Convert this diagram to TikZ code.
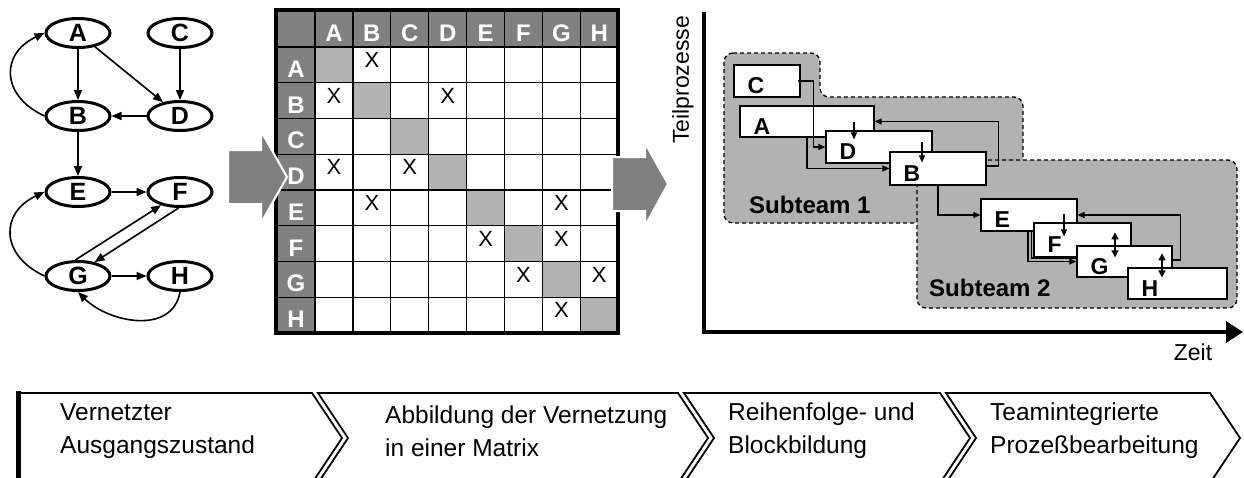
\documentclass[tikz,border=0pt]{standalone}
\usepackage{fontspec}
\setmainfont{Liberation Sans}
\usetikzlibrary{positioning,shapes.geometric,arrows.meta}
\definecolor{hdrgray}{RGB}{128,128,128}
\definecolor{blockgray}{RGB}{178,178,178}

\begin{document}
\begin{tikzpicture}[x=1pt,y=1pt,
  proc/.style={ellipse,draw,line width=3pt,minimum width=64pt,minimum height=29pt,inner sep=0pt,font=\fontsize{25}{25}\selectfont\bfseries},
  flow/.style={-{Triangle[length=10pt,width=8pt]},line width=1.6pt},
  hdr/.style={text=white,inner sep=0pt,font=\fontsize{24}{24}\selectfont\bfseries},
  xmark/.style={inner sep=0pt,font=\fontsize{22}{22}\selectfont},
  gridline/.style={line width=1.3pt},
  bigarr/.style={fill=hdrgray,draw=white,line width=2pt},
  team/.style={fill=blockgray,draw,dash pattern=on 4pt off 3pt,line width=1.3pt,rounded corners=9pt},
  teamlbl/.style={anchor=west,inner sep=0pt,font=\fontsize{24}{24}\selectfont\bfseries},
  tlbl/.style={anchor=west,inner sep=0pt,xshift=14pt,yshift=-5pt,font=\fontsize{23}{23}\selectfont\bfseries},
  task/.style={draw,fill=white,line width=1.2pt,inner sep=0pt,label={[tlbl]west:#1}},
  carr/.style={-{Triangle[length=7pt,width=6pt]},line width=1.1pt},
  dbl/.style={{Triangle[length=7pt,width=7pt]}-{Triangle[length=7pt,width=7pt]},line width=1.5pt},
  axlbl/.style={inner sep=0pt,font=\fontsize{23}{23}\selectfont},
  band/.style={line width=1.8pt},
  steptxt/.style={anchor=west,align=left,inner sep=0pt,font=\fontsize{24.5}{33}\selectfont}]
\useasboundingbox (0,0) rectangle (1244,-477);
\clip (0,0) rectangle (1244,-477);

% network
\node[proc] (A) at (78,-33) {A};
\node[proc] (C) at (180,-33) {C};
\node[proc] (B) at (78,-116) {B};
\node[proc] (D) at (180,-116) {D};
\node[proc] (E) at (78,-192) {E};
\node[proc] (F) at (180,-192) {F};
\node[proc] (G) at (78,-276) {G};
\node[proc] (H) at (180,-276) {H};
\draw[flow] (A) -- (B);
\draw[flow] (A) -- (D);
\draw[flow] (C) -- (D);
\draw[flow] (D) -- (B);
\draw[flow] (B) -- (E);
\draw[flow] (B.west) to[out=155,in=205,looseness=1.5] (A.west);
\draw[flow] (E) -- (F);
\draw[flow] (G.100) -- (F.215);
\draw[flow] (F.265) -- (G.40);
\draw[flow] (G.west) to[out=155,in=205,looseness=1.5] (E.west);
\draw[flow] (G) -- (H);
\draw[flow] (H.south) to[out=-100,in=-45,looseness=1.1] (G.south);

% matrix
\fill[hdrgray] (276,-10) rectangle (618,-47);
\fill[hdrgray] (276,-47) rectangle (315,-333);
\foreach \i in {0,...,7}
  \fill[blockgray] ({315+37.9*\i},{-47-35.75*\i}) rectangle ++(37.9,-35.75);
\foreach \i in {0,...,8}{
  \draw[gridline] ({315+37.9*\i},-10) -- ++(0,-323);
  \draw[gridline] (276,{-47-35.75*\i}) -- ++(342,0);
}
\draw[line width=4pt] (276,-10) rectangle (618,-333);
\foreach \l [count=\i from 0] in {A,B,C,D,E,F,G,H}{
  \node[hdr] (col\l) at ({334+37.9*\i},-33) {\l};
  \node[hdr] (row\l) at (296,{-69-35.75*\i}) {\l};
}
\foreach \r/\c in {0/1,1/0,1/3,3/0,3/2,4/1,4/6,5/4,5/6,6/5,6/7,7/6}
  \node[xmark] (x\r\c) at ({334+37.9*\c},{-60-35.75*\r}) {X};

% big arrows
\filldraw[bigarr] (228,-150) -- (261,-150) -- (261,-131) -- (287,-177) -- (261,-223) -- (261,-204) -- (228,-204) -- cycle;
\filldraw[bigarr] (612,-157) -- (645,-157) -- (645,-143) -- (668,-184) -- (645,-226) -- (645,-211) -- (612,-211) -- cycle;

% chart
\draw[line width=3.5pt,-{Triangle[length=17pt,width=21pt]}] (704,-12) -- (704,-332) -- (1243,-332);
\node[axlbl,rotate=90] (ylbl) at (683,-80) {Teilprozesse};
\node[axlbl] (xlbl) at (1193,-352) {Zeit};
\filldraw[team] (724,-53) -- (820,-53) -- (820,-97) -- (1023,-97) -- (1023,-223) -- (724,-223) -- cycle;
\filldraw[team] (917,-160) rectangle (1237,-308);
\node[teamlbl] (st1) at (749,-205) {Subteam 1};
\node[teamlbl] (st2) at (929,-288) {Subteam 2};

\node[task=C,minimum width=66,minimum height=32] (tC) at (767,-81) {};
\node[task=A,minimum width=134,minimum height=31] (tA) at (807,-121.5) {};
\node[task=D,minimum width=106,minimum height=32] (tD) at (879,-147) {};
\node[task=B,minimum width=96,minimum height=33] (tB) at (938,-168.5) {};
\node[task=E,minimum width=96,minimum height=32] (tE) at (1029,-215) {};
\node[task=F,minimum width=97,minimum height=34] (tF) at (1082.5,-240) {};
\node[task=G,minimum width=95,minimum height=31] (tG) at (1124.5,-261.5) {};
\node[task=H,minimum width=99,minimum height=31] (tH) at (1177.5,-283.5) {};

\draw[carr] ([xshift=-3pt]tC.east) -- ++(16,0) |- (tD.west);
\draw[carr] (tA.south) |- (tB.west);
\draw[carr] ([xshift=-25pt,yshift=8pt]tD.north) -- ++(0,-17);
\draw[carr] ([xshift=-16pt,yshift=9pt]tB.north) -- ++(0,-20);
\draw[carr] ([yshift=2.5pt]tB.east) -- ++(12,0) |- (tA.east);
\draw[carr] (tB.south) |- (tE.west);
\draw[carr] ([xshift=-18.5pt,yshift=8pt]tF.north) -- ++(0,-22);
\draw[dbl] ([xshift=-9.5pt,yshift=13pt]tG.north) -- ++(0,-25);
\draw[dbl] ([xshift=-15.5pt,yshift=14pt]tH.north) -- ++(0,-24);
\draw[carr] ([xshift=-1pt]tE.south) |- (tG.west);
\draw[line width=1.1pt] ([xshift=-2pt]tF.west |- tE.south) |- ([yshift=3.5pt]tG.west);
\draw[carr] ([yshift=1.5pt]tG.east) -- ++(8,0) |- (tE.east);

% process band
\draw[line width=5pt] (18,-391) -- (18,-483);
\draw[band] (18,-393) -- (312,-393) -- (342,-438) -- (312,-483);
\foreach \a/\b in {318/678,684/940,946/1210}
  \draw[band] (\a,-483) -- (\a+30,-438) -- (\a,-393) -- (\b,-393) -- (\b+30,-438) -- (\b,-483);
\node[steptxt] (s1) at (60,-431) {Vernetzter\\Ausgangszustand};
\node[steptxt] (s2) at (385,-431) {Abbildung der Vernetzung\\in einer Matrix};
\node[steptxt] (s3) at (728,-431) {Reihenfolge- und\\Blockbildung};
\node[steptxt] (s4) at (990,-431) {Teamintegrierte\\Prozeßbearbeitung};
\end{tikzpicture}
\end{document}
